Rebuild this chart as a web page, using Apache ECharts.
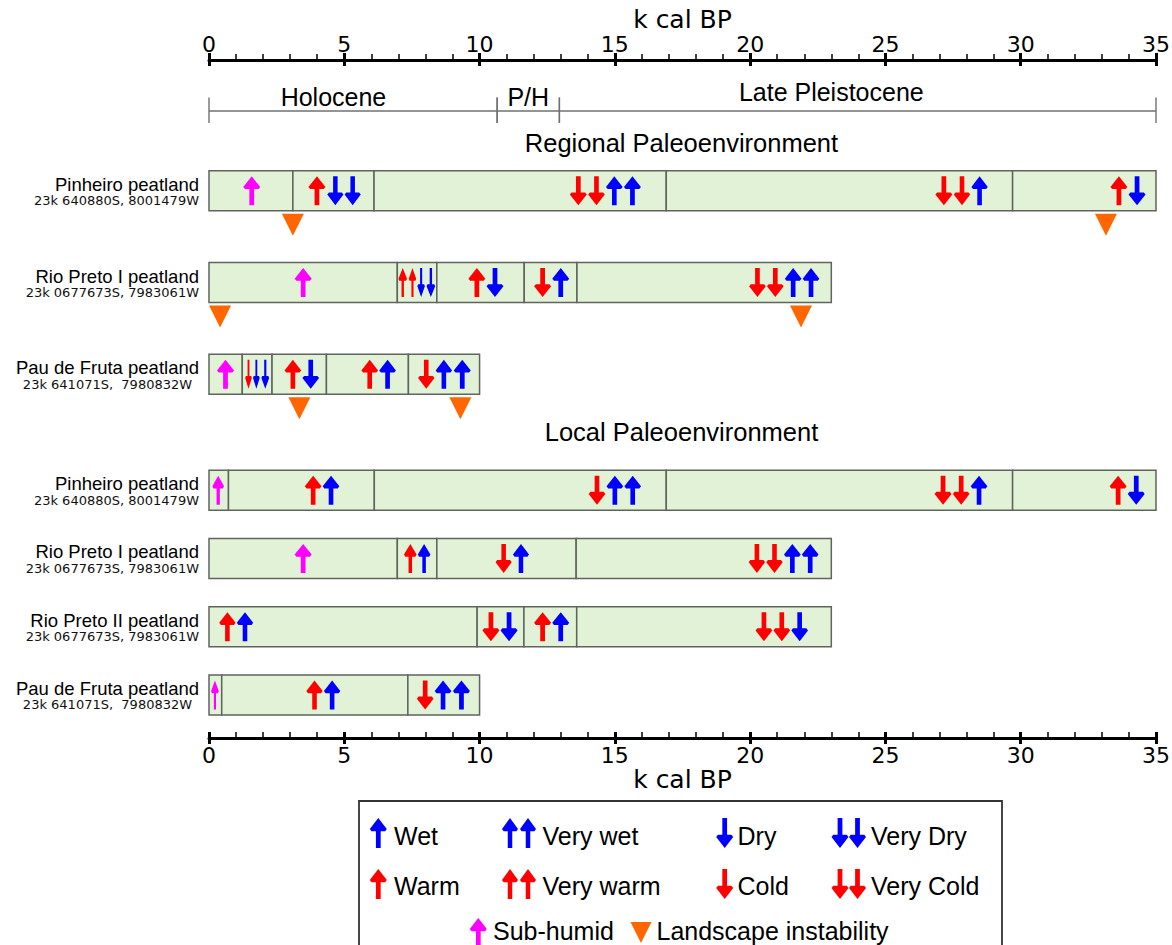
<!DOCTYPE html>
<html>
<head>
<meta charset="utf-8">
<script src="https://cdn.jsdelivr.net/npm/echarts@6/dist/echarts.min.js"></script>
<style>html,body{margin:0;padding:0;background:#fff}#c{width:1172px;height:945px}</style>
</head>
<body>
<div id="c"></div>
<script>
// ---------------- DATA ----------------
const axisMin = 0, axisMax = 35, axisStep = 5;
const axisName = 'k cal BP';

const periodNames = ['Holocene', 'P/H', 'Late Pleistocene'];
const periodBounds = [0, 10.65, 12.95, 35];
const periodLabelAge = [4.6, 11.8, 23.0];

const sectionTitles = ['Regional Paleoenvironment', 'Local Paleoenvironment'];

const regionalSites = ['Pinheiro peatland', 'Rio Preto I peatland', 'Pau de Fruta peatland'];
const regionalCoords = ['23k 640880S, 8001479W', '23k 0677673S, 7983061W', '23k 641071S,  7980832W'];
const regionalBreaks = [
  [0, 3.1, 6.1, 16.9, 29.7, 35],
  [0, 6.96, 8.42, 11.65, 13.6, 23],
  [0, 1.23, 2.33, 4.34, 7.37, 10]
];
const regionalEvents = [
  [[1.58,'subhumid'],[3.99,'warm'],[4.67,'dry'],[5.31,'dry'],[13.65,'cold'],[14.32,'cold'],[14.98,'wet'],[15.65,'wet'],[27.16,'cold'],[27.83,'cold'],[28.48,'wet'],[33.63,'warm'],[34.3,'dry']],
  [[3.48,'subhumid'],[7.16,'warm'],[7.52,'warm'],[7.84,'dry'],[8.2,'dry'],[9.9,'warm'],[10.57,'dry'],[12.33,'cold'],[13.0,'wet'],[20.27,'cold'],[20.93,'cold'],[21.59,'wet'],[22.25,'wet']],
  [[0.61,'subhumid'],[1.46,'cold'],[1.75,'dry'],[2.08,'dry'],[3.1,'warm'],[3.76,'dry'],[5.94,'warm'],[6.6,'wet'],[8.03,'cold'],[8.68,'wet'],[9.36,'wet']]
];
const regionalInstability = [[3.1, 33.15], [0.41, 21.88], [3.34, 9.29]];

const localSites = ['Pinheiro peatland', 'Rio Preto I peatland', 'Rio Preto II peatland', 'Pau de Fruta peatland'];
const localCoords = ['23k 640880S, 8001479W', '23k 0677673S, 7983061W', '23k 0677673S, 7983061W', '23k 641071S,  7980832W'];
const localBreaks = [
  [0, 0.72, 6.11, 16.9, 29.7, 35],
  [0, 6.96, 8.42, 13.57, 23],
  [0, 9.91, 11.64, 13.59, 23],
  [0, 0.47, 7.35, 10]
];
const localEvents = [
  [[0.34,'subhumid'],[3.85,'warm'],[4.51,'wet'],[14.34,'cold'],[15.0,'wet'],[15.66,'wet'],[27.13,'cold'],[27.8,'cold'],[28.46,'wet'],[33.6,'warm'],[34.27,'dry']],
  [[3.48,'subhumid'],[7.44,'warm'],[7.95,'wet'],[10.89,'cold'],[11.53,'wet'],[20.25,'cold'],[20.9,'cold'],[21.56,'wet'],[22.22,'wet']],
  [[0.68,'warm'],[1.33,'wet'],[10.42,'cold'],[11.09,'dry'],[12.33,'warm'],[13.0,'wet'],[20.51,'cold'],[21.17,'cold'],[21.83,'dry']],
  [[0.22,'subhumid'],[3.9,'warm'],[4.55,'wet'],[7.99,'cold'],[8.65,'wet'],[9.33,'wet']]
];

const legendLabels = ['Wet','Very wet','Dry','Very Dry','Warm','Very warm','Cold','Very Cold','Sub-humid','Landscape instability'];
const legendTypes  = ['wet','wet','dry','dry','warm','warm','cold','cold','subhumid','instability'];
const legendCounts = [1,2,1,2,1,2,1,2,1,1];

// ---------------- STYLE / LAYOUT ----------------
const TYPES = ['wet','dry','warm','cold','subhumid'];
const TYPE_COLOR = {wet:'#0000ff', dry:'#0000ff', warm:'#ff0000', cold:'#ff0000', subhumid:'#ff00ff', instability:'#ff6600'};
const TYPE_UP = {wet:true, dry:false, warm:true, cold:false, subhumid:true};
const BAR_FILL = '#e2f2d6', BAR_STROKE = '#5f645f';
const BAR_H = 40, ARROW_H = 29, ARROW_MAXW = 17;
const SANS = 'Liberation Sans, Arial, sans-serif';
const DEJA = 'DejaVu Sans, sans-serif';

function arrowShape(cx, cy, w, h, up) {
  const rel = [[0,-0.5],[0.5,-0.13],[0.4,-0.06],[0.14,-0.06],[0.14,0.5],[-0.14,0.5],[-0.14,-0.06],[-0.4,-0.06],[-0.5,-0.13]];
  const s = up ? 1 : -1;
  return rel.map(p => [cx + p[0] * w, cy + s * p[1] * h]);
}

function segmentData(breaks) {
  const out = [];
  breaks.forEach((b, row) => { for (let i = 0; i < b.length - 1; i++) out.push([b[i], b[i + 1], row]); });
  return out;
}
function arrowData(events, breaks) {
  const out = [];
  events.forEach((list, row) => {
    list.forEach(([age, type]) => {
      let gap = 99;
      list.forEach(([a2]) => { if (a2 !== age) gap = Math.min(gap, Math.abs(a2 - age)); });
      const b = breaks[row];
      let seg = 99;
      for (let i = 0; i < b.length - 1; i++) if (age >= b[i] && age <= b[i + 1]) seg = b[i + 1] - b[i];
      out.push([age, row, TYPES.indexOf(type), gap, seg]);
    });
  });
  return out;
}
function triData(list) {
  const out = [];
  list.forEach((ages, row) => ages.forEach(a => out.push([a, row])));
  return out;
}

function renderSegment(params, api) {
  const s = api.coord([api.value(0), api.value(2)]);
  const e = api.coord([api.value(1), api.value(2)]);
  return {type: 'rect', shape: {x: s[0], y: s[1] - BAR_H / 2, width: e[0] - s[0], height: BAR_H},
    style: {fill: BAR_FILL, stroke: BAR_STROKE, lineWidth: 1.5}};
}
function renderArrow(params, api) {
  const c = api.coord([api.value(0), api.value(1)]);
  const t = TYPES[api.value(2)];
  const k = api.size([1, 0])[0];
  const w = Math.min(ARROW_MAXW, api.value(3) * k - 1.2, 0.6 * api.value(4) * k);
  return {type: 'polygon', shape: {points: arrowShape(c[0], c[1], w, ARROW_H, TYPE_UP[t])},
    style: {fill: TYPE_COLOR[t]}};
}
function renderTri(params, api) {
  const c = api.coord([api.value(0), api.value(1)]);
  const top = c[1] + BAR_H / 2 + 3;
  return {type: 'polygon', shape: {points: [[c[0] - 11, top], [c[0] + 11, top], [c[0], top + 22]]},
    style: {fill: TYPE_COLOR.instability}};
}
function renderPeriod(params, api) {
  const i = api.value(3);
  const s = api.coord([api.value(0), 0]);
  const e = api.coord([api.value(1), 0]);
  const m = api.coord([periodLabelAge[i], 0]);
  const ly = params.coordSys.y - 34;
  const dy = (periodNames[i] === 'Late Pleistocene') ? -5 : 0;
  const ls = {stroke: '#707070', lineWidth: 1.4};
  return {type: 'group', children: [
    {type: 'line', shape: {x1: s[0], y1: ly, x2: e[0], y2: ly}, style: ls},
    {type: 'line', shape: {x1: s[0], y1: ly - 13.5, x2: s[0], y2: ly + 12}, style: ls},
    {type: 'line', shape: {x1: e[0], y1: ly - 13.5, x2: e[0], y2: ly + 12}, style: ls},
    {type: 'text', style: {text: periodNames[i], x: m[0], y: ly - 14 + dy, align: 'center', verticalAlign: 'middle',
      fontSize: 25, fontFamily: SANS, fill: '#000'}}
  ]};
}

function siteLabel(coords) {
  return {
    show: true, interval: 0, margin: 10,
    formatter: (v, i) => '{n|' + v + '}\n{c|' + coords[i] + '}',
    rich: {
      n: {fontSize: 18.5, fontFamily: SANS, color: '#000', lineHeight: 20, align: 'right'},
      c: {fontSize: 13, fontFamily: DEJA, color: '#111', lineHeight: 13, align: 'center'}
    }
  };
}

const xBase = {type: 'value', min: axisMin, max: axisMax, interval: axisStep, splitLine: {show: false}};
const tickStyle = {color: '#000', width: 3};

const xAxes = [
  Object.assign({}, xBase, {gridIndex: 0, position: 'top', offset: 85,
    axisLine: {show: true, lineStyle: {color: '#000', width: 3}},
    axisTick: {show: true, inside: false, length: 7, lineStyle: tickStyle},
    minorTick: {show: true, splitNumber: 5, length: 6, lineStyle: {color: '#000', width: 1.5}},
    axisLabel: {show: true, margin: 5, fontSize: 22, fontFamily: DEJA, color: '#000', showMinLabel: true, showMaxLabel: true},
    name: axisName, nameLocation: 'middle', nameGap: 27,
    nameTextStyle: {fontSize: 25, fontFamily: DEJA, color: '#000'}}),
  Object.assign({}, xBase, {gridIndex: 0, position: 'top', offset: 85,
    axisLine: {show: false}, axisTick: {show: true, inside: true, length: 6, lineStyle: tickStyle},
    minorTick: {show: false}, axisLabel: {show: false}}),
  Object.assign({}, xBase, {gridIndex: 1, position: 'bottom', offset: 9,
    axisLine: {show: true, lineStyle: {color: '#000', width: 3}},
    axisTick: {show: true, inside: true, length: 6, lineStyle: tickStyle},
    minorTick: {show: true, splitNumber: 5, length: 6, lineStyle: {color: '#000', width: 1.5}},
    axisLabel: {show: true, margin: 6, fontSize: 22, fontFamily: DEJA, color: '#000', showMinLabel: true, showMaxLabel: true},
    name: axisName, nameLocation: 'middle', nameGap: 24,
    nameTextStyle: {fontSize: 25, fontFamily: DEJA, color: '#000'}}),
  Object.assign({}, xBase, {gridIndex: 1, position: 'bottom', offset: 9,
    axisLine: {show: false}, axisTick: {show: true, inside: false, length: 6, lineStyle: tickStyle},
    minorTick: {show: false}, axisLabel: {show: false}})
];

const yAxes = [
  {type: 'category', gridIndex: 0, data: regionalSites, inverse: true,
   axisLine: {show: false}, axisTick: {show: false}, splitLine: {show: false}, axisLabel: siteLabel(regionalCoords)},
  {type: 'category', gridIndex: 1, data: localSites, inverse: true,
   axisLine: {show: false}, axisTick: {show: false}, splitLine: {show: false}, axisLabel: siteLabel(localCoords)}
];

// legend graphics (layout constants)
const legendCols = [
  {ax: [378.3], tx: 394}, {ax: [510, 528], tx: 542.5, w: 16}, {ax: [724.7], tx: 737.5}, {ax: [840, 857.5], tx: 871}
];
const legendRows = [{ay: 833, ty: 836}, {ay: 884, ty: 886}];
const graphics = [];
graphics.push({type: 'rect', shape: {x: 359, y: 801, width: 643, height: 200}, style: {fill: 'none', stroke: '#333', lineWidth: 1.8}, z: 10});
for (let i = 0; i < 8; i++) {
  const col = legendCols[i % 4], row = legendRows[Math.floor(i / 4)];
  const t = legendTypes[i];
  for (let j = 0; j < legendCounts[i]; j++) {
    graphics.push({type: 'polygon', z: 10, shape: {points: arrowShape(col.ax[j], row.ay, col.w || 17, 30, TYPE_UP[t])}, style: {fill: TYPE_COLOR[t]}});
  }
  graphics.push({type: 'text', z: 10, style: {text: legendLabels[i], x: col.tx, y: row.ty, align: 'left', verticalAlign: 'middle', fontSize: 25, fontFamily: SANS, fill: '#000'}});
}
graphics.push({type: 'polygon', z: 10, shape: {points: arrowShape(478.3, 933, 17, 30, true)}, style: {fill: TYPE_COLOR[legendTypes[8]]}});
graphics.push({type: 'text', z: 10, style: {text: legendLabels[8], x: 493, y: 931, align: 'left', verticalAlign: 'middle', fontSize: 25, fontFamily: SANS, fill: '#000'}});
graphics.push({type: 'polygon', z: 10, shape: {points: [[630.5, 922], [651.5, 922], [641, 943]]}, style: {fill: TYPE_COLOR[legendTypes[9]]}});
graphics.push({type: 'text', z: 10, style: {text: legendLabels[9], x: 656.5, y: 931, align: 'left', verticalAlign: 'middle', fontSize: 25, fontFamily: SANS, fill: '#000'}});
// section titles
graphics.push({type: 'text', z: 10, style: {text: sectionTitles[0], x: 681.5, y: 142.5, align: 'center', verticalAlign: 'middle', fontSize: 25.5, fontFamily: SANS, fill: '#000'}});
graphics.push({type: 'text', z: 10, style: {text: sectionTitles[1], x: 681.5, y: 431.7, align: 'center', verticalAlign: 'middle', fontSize: 25.5, fontFamily: SANS, fill: '#000'}});

const option = {
  backgroundColor: '#fff',
  animation: false,
  grid: [
    {left: 209, right: 16, top: 145, height: 275, containLabel: false, outerBoundsMode: 'none'},
    {left: 209, right: 16, top: 456, height: 273, containLabel: false, outerBoundsMode: 'none'}
  ],
  xAxis: xAxes,
  yAxis: yAxes,
  graphic: graphics,
  series: [
    {type: 'custom', name: 'regional segments', xAxisIndex: 0, yAxisIndex: 0, z: 2, silent: true,
     encode: {x: [0, 1], y: 2}, data: segmentData(regionalBreaks), renderItem: renderSegment},
    {type: 'custom', name: 'regional signals', xAxisIndex: 0, yAxisIndex: 0, z: 3, silent: true,
     encode: {x: 0, y: 1}, data: arrowData(regionalEvents, regionalBreaks), renderItem: renderArrow},
    {type: 'custom', name: 'landscape instability', xAxisIndex: 0, yAxisIndex: 0, z: 3, silent: true,
     encode: {x: 0, y: 1}, data: triData(regionalInstability), renderItem: renderTri},
    {type: 'custom', name: 'periods', xAxisIndex: 0, yAxisIndex: 0, z: 3, silent: true,
     encode: {x: [0, 1], y: 2}, data: periodNames.map((n, i) => [periodBounds[i], periodBounds[i + 1], 0, i]), renderItem: renderPeriod},
    {type: 'custom', name: 'local segments', xAxisIndex: 2, yAxisIndex: 1, z: 2, silent: true,
     encode: {x: [0, 1], y: 2}, data: segmentData(localBreaks), renderItem: renderSegment},
    {type: 'custom', name: 'local signals', xAxisIndex: 2, yAxisIndex: 1, z: 3, silent: true,
     encode: {x: 0, y: 1}, data: arrowData(localEvents, localBreaks), renderItem: renderArrow}
  ]
};

const chart = echarts.init(document.getElementById('c'), null, {renderer: 'svg', width: 1172, height: 945});
chart.setOption(option);
</script>
</body>
</html>
